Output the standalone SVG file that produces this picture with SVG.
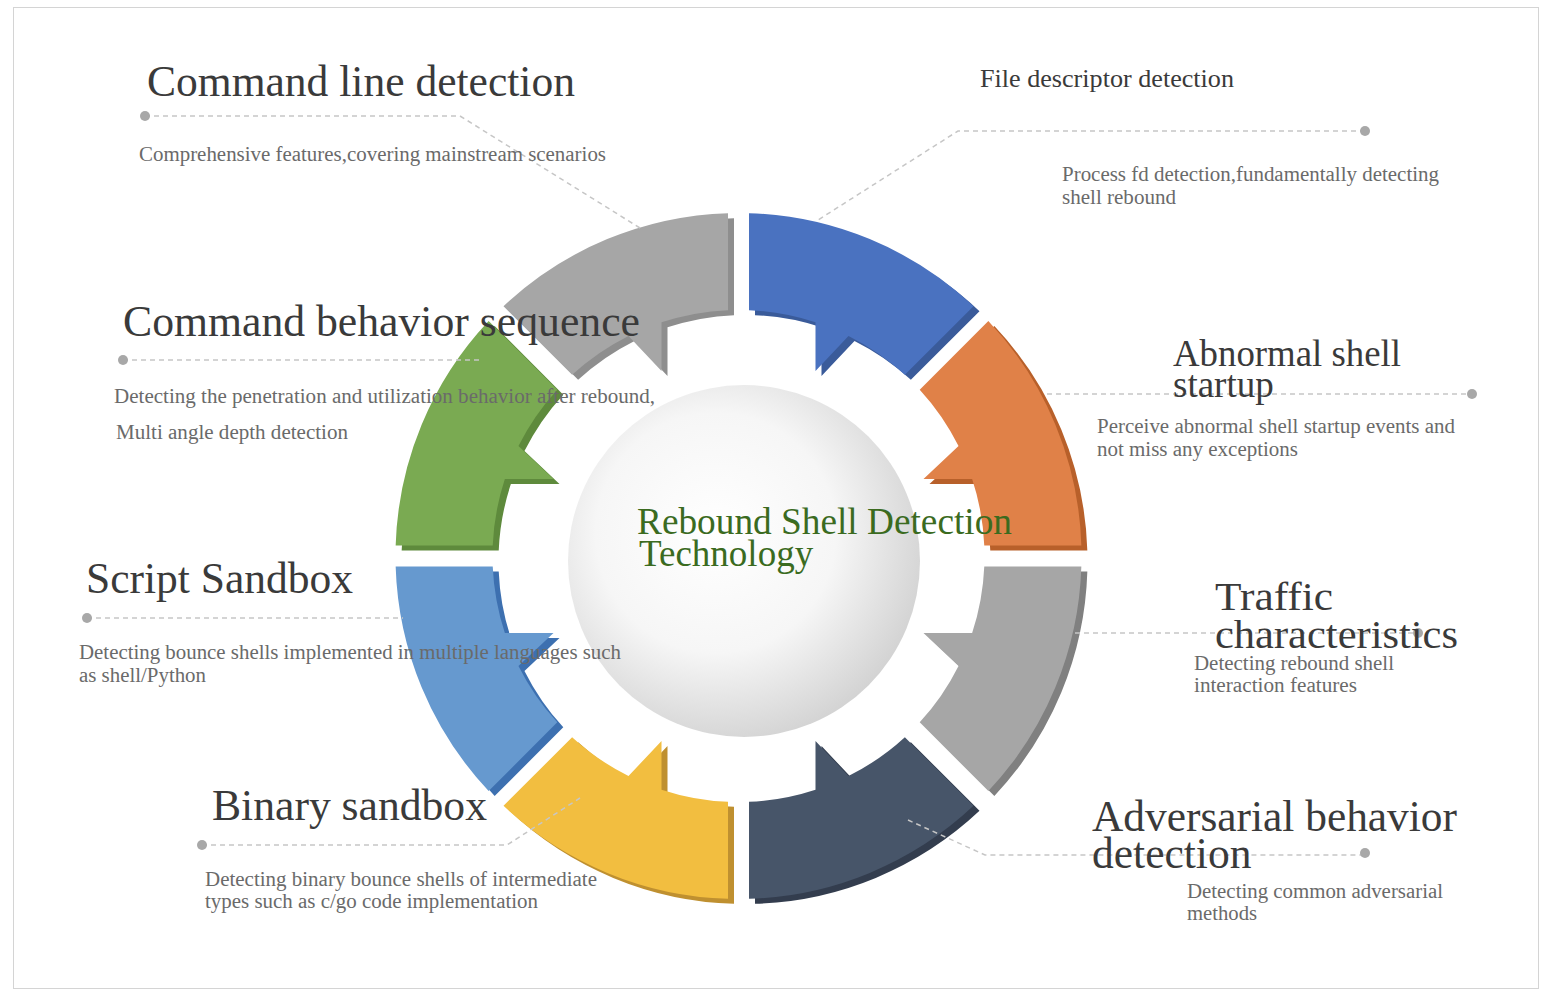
<svg xmlns="http://www.w3.org/2000/svg" xmlns:xlink="http://www.w3.org/1999/xlink" width="1544" height="994" viewBox="0 0 1544 994">
<style>
.title{font-family:"Liberation Serif","Times New Roman",serif;fill:#3a3a3a;}
.desc{font-family:"Liberation Serif","Times New Roman",serif;fill:#6a6a6a;font-size:20px;}
.lead{fill:none;stroke:#c6c6c6;stroke-width:1.5;stroke-dasharray:5 4;}
.dot{fill:#a8a8a8;}
.center{font-family:"Liberation Serif","Times New Roman",serif;fill:#3b6b1f;font-size:37px;}
</style>
<defs>
<path id="seg" d="M10.5,-342.84 A343,343 0 0,1 235,-249.85 L166.37,-181.22 A246,246 0 0,0 110,-220.04 L77,-185 L77,-233.64 A246,246 0 0,0 10.5,-245.78 Z"/>
<radialGradient id="cg" cx="0.42" cy="0.42" r="0.62">
<stop offset="0" stop-color="#ffffff"/>
<stop offset="0.55" stop-color="#f6f6f6"/>
<stop offset="1" stop-color="#d2d2d2"/>
</radialGradient>
</defs>
<rect x="0" y="0" width="1544" height="994" fill="#ffffff"/>
<rect x="13.5" y="7.5" width="1525" height="981" fill="none" stroke="#d4d4d4" stroke-width="1"/>

<g id="ring">
<g id="seg-gray-top">
<use xlink:href="#seg" transform="translate(744.5,561) matrix(-1,0,0,1,0,0)" fill="#8e8e8e"/>
<use xlink:href="#seg" transform="translate(738.5,556) matrix(-1,0,0,1,0,0)" fill="#a6a6a6"/>
</g>
<g id="seg-blue">
<use xlink:href="#seg" transform="translate(744.5,561)" fill="#3a5b9a"/>
<use xlink:href="#seg" transform="translate(738.5,556)" fill="#4a72c0"/>
</g>
<g id="seg-orange">
<use xlink:href="#seg" transform="translate(744.5,561) matrix(0,-1,-1,0,0,0)" fill="#b8602a"/>
<use xlink:href="#seg" transform="translate(738.5,556) matrix(0,-1,-1,0,0,0)" fill="#e08148"/>
</g>
<g id="seg-gray-right">
<use xlink:href="#seg" transform="translate(744.5,561) matrix(0,1,-1,0,0,0)" fill="#808080"/>
<use xlink:href="#seg" transform="translate(738.5,556) matrix(0,1,-1,0,0,0)" fill="#a6a6a6"/>
</g>
<g id="seg-navy">
<use xlink:href="#seg" transform="translate(744.5,561) matrix(1,0,0,-1,0,0)" fill="#333d4e"/>
<use xlink:href="#seg" transform="translate(738.5,556) matrix(1,0,0,-1,0,0)" fill="#475569"/>
</g>
<g id="seg-yellow">
<use xlink:href="#seg" transform="translate(744.5,561) matrix(-1,0,0,-1,0,0)" fill="#bf9030"/>
<use xlink:href="#seg" transform="translate(738.5,556) matrix(-1,0,0,-1,0,0)" fill="#f2be40"/>
</g>
<g id="seg-lightblue">
<use xlink:href="#seg" transform="translate(744.5,561) matrix(0,1,1,0,0,0)" fill="#3d70b0"/>
<use xlink:href="#seg" transform="translate(738.5,556) matrix(0,1,1,0,0,0)" fill="#6699cf"/>
</g>
<g id="seg-green">
<use xlink:href="#seg" transform="translate(744.5,561) matrix(0,-1,1,0,0,0)" fill="#5e8a3c"/>
<use xlink:href="#seg" transform="translate(738.5,556) matrix(0,-1,1,0,0,0)" fill="#7aaa52"/>
</g>
</g>

<g id="hub">
<circle cx="744" cy="561" r="176" fill="url(#cg)"/>
<text class="center" x="637" y="534" textLength="375" lengthAdjust="spacingAndGlyphs">Rebound Shell Detection</text>
<text class="center" x="639" y="566">Technology</text>
</g>

<g id="connectors">
<path class="lead" d="M145,116 H460 L640,228"/>
<circle class="dot" cx="145" cy="116" r="5"/>
<path class="lead" d="M1365,131 H958 L818,220"/>
<circle class="dot" cx="1365" cy="131" r="5"/>
<path class="lead" d="M123,360 H482"/>
<circle class="dot" cx="123" cy="360" r="5"/>
<path class="lead" d="M1047,394 H1472"/>
<circle class="dot" cx="1472" cy="394" r="5"/>
<path class="lead" d="M87,618 H403"/>
<circle class="dot" cx="87" cy="618" r="5"/>
<path class="lead" d="M1075,633 H1418"/>
<circle class="dot" cx="1418" cy="633" r="5"/>
<path class="lead" d="M202,845 H507 L580,798"/>
<circle class="dot" cx="202" cy="845" r="5"/>
<path class="lead" d="M908,820 L985,855 H1365"/>
<circle class="dot" cx="1365" cy="853" r="5"/>
</g>

<g id="label-command-line">
<text class="title" x="147" y="96" font-size="43.5" textLength="428" lengthAdjust="spacingAndGlyphs">Command line detection</text>
<text class="desc" x="139" y="161" textLength="467" lengthAdjust="spacingAndGlyphs">Comprehensive features,covering mainstream scenarios</text>
</g>
<g id="label-file-descriptor">
<text class="title" x="980" y="87" font-size="26" textLength="254" lengthAdjust="spacingAndGlyphs">File descriptor detection</text>
<text class="desc" x="1062" y="181" textLength="377" lengthAdjust="spacingAndGlyphs">Process fd detection,fundamentally detecting</text>
<text class="desc" x="1062" y="204" textLength="114" lengthAdjust="spacingAndGlyphs">shell rebound</text>
</g>
<g id="label-command-behavior">
<text class="title" x="123" y="336" font-size="43.5" textLength="517" lengthAdjust="spacingAndGlyphs">Command behavior sequence</text>
<text class="desc" x="114" y="403" textLength="541" lengthAdjust="spacingAndGlyphs">Detecting the penetration and utilization behavior after rebound,</text>
<text class="desc" x="116" y="439" textLength="232" lengthAdjust="spacingAndGlyphs">Multi angle depth detection</text>
</g>
<g id="label-abnormal-shell">
<text class="title" x="1173" y="366" font-size="37" textLength="228" lengthAdjust="spacingAndGlyphs">Abnormal shell</text>
<text class="title" x="1173" y="397" font-size="37">startup</text>
<text class="desc" x="1097" y="433" textLength="358" lengthAdjust="spacingAndGlyphs">Perceive abnormal shell startup events and</text>
<text class="desc" x="1097" y="456" textLength="201" lengthAdjust="spacingAndGlyphs">not miss any exceptions</text>
</g>
<g id="label-script-sandbox">
<text class="title" x="86" y="593" font-size="43.5" textLength="267" lengthAdjust="spacingAndGlyphs">Script Sandbox</text>
<text class="desc" x="79" y="659" textLength="542" lengthAdjust="spacingAndGlyphs">Detecting bounce shells implemented in multiple languages such</text>
<text class="desc" x="79" y="682" textLength="127" lengthAdjust="spacingAndGlyphs">as shell/Python</text>
</g>
<g id="label-traffic">
<text class="title" x="1215" y="610" font-size="41" textLength="118" lengthAdjust="spacingAndGlyphs">Traffic</text>
<text class="title" x="1215" y="648" font-size="41" textLength="243" lengthAdjust="spacingAndGlyphs">characteristics</text>
<text class="desc" x="1194" y="670" textLength="200" lengthAdjust="spacingAndGlyphs">Detecting rebound shell</text>
<text class="desc" x="1194" y="692" textLength="163" lengthAdjust="spacingAndGlyphs">interaction features</text>
</g>
<g id="label-binary-sandbox">
<text class="title" x="212" y="820" font-size="43.5" textLength="275" lengthAdjust="spacingAndGlyphs">Binary sandbox</text>
<text class="desc" x="205" y="886" textLength="392" lengthAdjust="spacingAndGlyphs">Detecting binary bounce shells of intermediate</text>
<text class="desc" x="205" y="908" textLength="333" lengthAdjust="spacingAndGlyphs">types such as c/go code implementation</text>
</g>
<g id="label-adversarial">
<text class="title" x="1092" y="831" font-size="43.5" textLength="365" lengthAdjust="spacingAndGlyphs">Adversarial behavior</text>
<text class="title" x="1092" y="868" font-size="43.5">detection</text>
<text class="desc" x="1187" y="898" textLength="256" lengthAdjust="spacingAndGlyphs">Detecting common adversarial</text>
<text class="desc" x="1187" y="920" textLength="70" lengthAdjust="spacingAndGlyphs">methods</text>
</g>
</svg>
